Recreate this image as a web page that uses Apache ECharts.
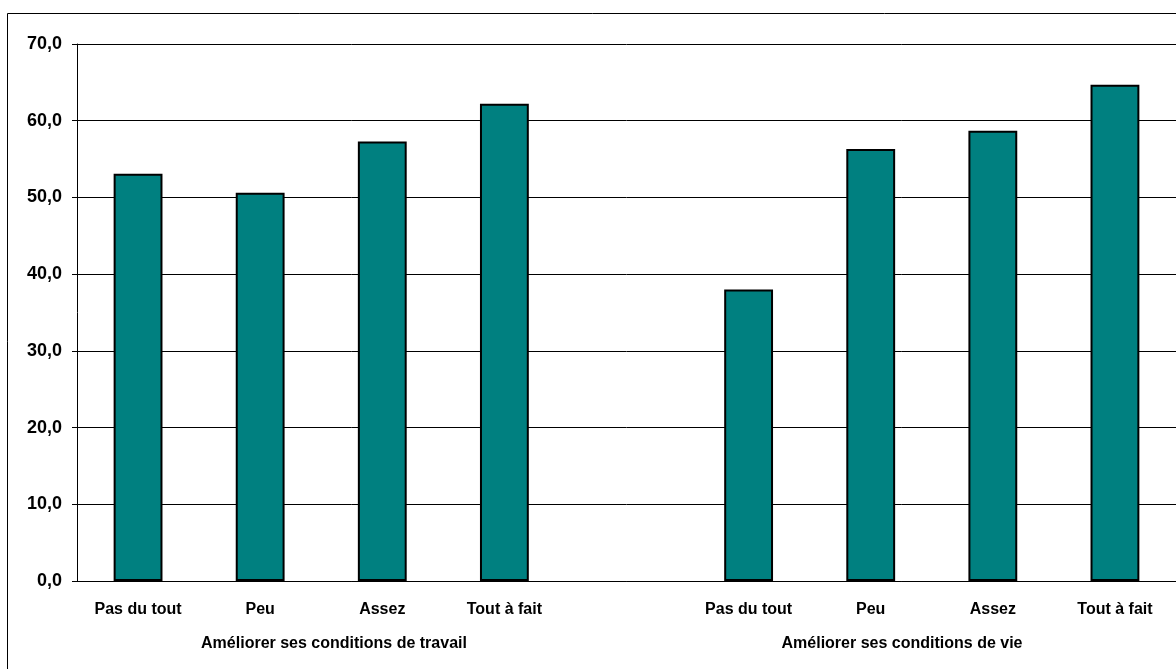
<!DOCTYPE html>
<html>
<head>
<meta charset="utf-8">
<script src="https://cdn.jsdelivr.net/npm/echarts@6/dist/echarts.min.js"></script>
<style>
html,body{margin:0;padding:0;background:#fff;}
#c{width:1176px;height:669px;}
</style>
</head>
<body>
<div id="c"></div>
<script>
const categories = ['Pas du tout', 'Peu', 'Assez', 'Tout à fait', '', 'Pas du tout', 'Peu', 'Assez', 'Tout à fait'];
const values = [53.1, 50.6, 57.3, 62.2, '-', 38.0, 56.3, 58.7, 64.7];
const groupLabels = ['Améliorer ses conditions de travail', 'Améliorer ses conditions de vie'];
const yTicks = { min: 0, max: 70, interval: 10 };

const FONT = '"Liberation Sans", Arial, sans-serif';
const chart = echarts.init(document.getElementById('c'), null, { renderer: 'canvas' });
chart.setOption({
  animation: false,
  backgroundColor: '#fff',
  grid: { left: 77, right: 0, top: 44, bottom: 88, containLabel: false },
  xAxis: {
    type: 'category',
    data: categories,
    axisLine: { show: true, lineStyle: { color: '#000', width: 1 } },
    axisTick: { show: false },
    axisLabel: { interval: 0, margin: 21, color: '#000', fontWeight: 'bold', fontSize: 16, fontFamily: FONT },
    splitLine: { show: false }
  },
  yAxis: {
    type: 'value',
    min: yTicks.min, max: yTicks.max, interval: yTicks.interval,
    axisLine: { show: true, lineStyle: { color: '#000', width: 1 } },
    axisTick: { show: true, inside: false, length: 5, lineStyle: { color: '#000' } },
    axisLabel: {
      margin: 15, color: '#000', fontWeight: 'bold', fontSize: 18, fontFamily: FONT,
      formatter: v => v.toFixed(1).replace('.', ',')
    },
    splitLine: { show: true, lineStyle: { color: '#000', width: 1 } }
  },
  series: [{
    type: 'bar',
    data: values,
    barWidth: '40%',
    itemStyle: { color: '#008080', borderColor: '#000', borderWidth: 2 }
  }],
  graphic: [
    { type: 'rect', x: 7.5, y: 13.5, shape: { width: 1200, height: 700 }, style: { fill: 'none', stroke: '#000', lineWidth: 1 }, silent: true, z: -1 },
    { type: 'text', x: 334, y: 644, style: { text: groupLabels[0], textAlign: 'center', textVerticalAlign: 'middle', font: 'bold 16px ' + FONT, fill: '#000' } },
    { type: 'text', x: 902, y: 644, style: { text: groupLabels[1], textAlign: 'center', textVerticalAlign: 'middle', font: 'bold 16px ' + FONT, fill: '#000' } }
  ]
});
</script>
</body>
</html>
